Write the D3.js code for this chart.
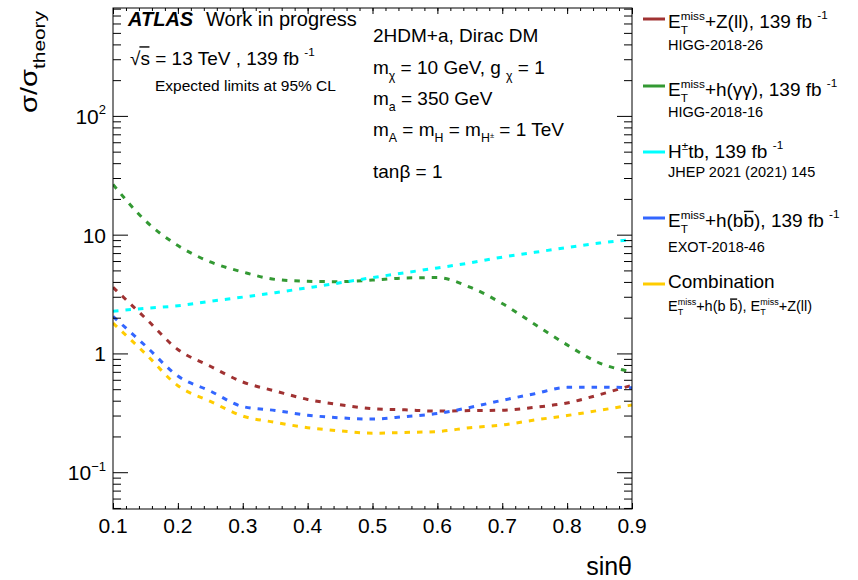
<!DOCTYPE html>
<html><head><meta charset="utf-8">
<script src="https://cdn.jsdelivr.net/npm/d3@7"></script>
<style>
body{margin:0;background:#fff}
text{font-family:"Liberation Sans",Arial,Helvetica,sans-serif;fill:#000;white-space:pre}
</style>
</head><body>
<svg id="c" width="858" height="580"></svg>
<script>
// ---------------- data ----------------
const sinTheta    = [0.10,0.15,0.20,0.25,0.30,0.35,0.40,0.45,0.50,0.55,0.60,0.65,0.70,0.75,0.80,0.85,0.90];
const zll         = [3.6,1.98,1.08,0.78,0.575,0.483,0.41,0.37,0.342,0.335,0.327,0.33,0.333,0.352,0.383,0.45,0.54];
const hgg         = [26.5,13.1,8.1,5.9,4.85,4.2,4.05,4.02,4.15,4.32,4.35,3.62,2.63,1.76,1.18,0.83,0.70];
const htb         = [2.27,2.40,2.52,2.75,2.98,3.25,3.57,3.93,4.35,4.78,5.25,5.78,6.47,7.1,7.8,8.5,9.1];
const hbb         = [2.05,1.16,0.645,0.482,0.357,0.331,0.302,0.287,0.28,0.294,0.312,0.351,0.403,0.458,0.518,0.52,0.514];
const combination = [1.80,0.995,0.535,0.395,0.297,0.263,0.237,0.223,0.213,0.216,0.22,0.237,0.25,0.275,0.30,0.332,0.368];

const xTickValues = [0.1,0.2,0.3,0.4,0.5,0.6,0.7,0.8,0.9];
const xTickLabels = ["0.1","0.2","0.3","0.4","0.5","0.6","0.7","0.8","0.9"];
const yTickValues = [0.1,1,10,100];
const yTickLabels = [
  [{t:"10"},{t:"\u22121",s:0.62,dy:-0.45}],
  [{t:"1"}],
  [{t:"10"}],
  [{t:"10"},{t:"2",s:0.62,dy:-0.45}]
];

const ETmiss = [{t:"E"},{stack:[{t:"miss",s:0.62,dy:-0.42},{t:"T",s:0.62,dy:0.3}]}];
const seriesNames = ["zll","hgg","htb","hbb","combination"];
const seriesColors = ["#a03232","#339933","#00ffff","#3366ff","#ffcc00"];
const legendMain = [
  [...ETmiss,{t:"+Z(ll), 139 fb "},{t:"-1",s:0.62,dy:-0.45}],
  [...ETmiss,{t:"+h(\u03b3\u03b3), 139 fb "},{t:"-1",s:0.62,dy:-0.45}],
  [{t:"H"},{t:"\u00b1",s:0.62,dy:-0.42},{t:"tb, 139 fb "},{t:"-1",s:0.62,dy:-0.45}],
  [...ETmiss,{t:"+h(b"},{t:"b",over:true},{t:"), 139 fb "},{t:"-1",s:0.62,dy:-0.45}],
  [{t:"Combination"}]
];
const legendSub = [
  [{t:"HIGG-2018-26"}],
  [{t:"HIGG-2018-16"}],
  [{t:"JHEP 2021 (2021) 145"}],
  [{t:"EXOT-2018-46"}],
  [...ETmiss,{t:"+h(b "},{t:"b",over:true},{t:"), "},...ETmiss,{t:"+Z(ll)"}]
];

// ---------------- layout ----------------
const svg = d3.select("#c");
const L = 113, R = 632, T = 8, B = 509;
const x = d3.scaleLinear().domain([0.1,0.9]).range([L,R]);
const y = d3.scaleLog().domain([0.049,810]).range([B,T]);

function rich(g, x0, y0, parts, size){
  let cx = x0;
  parts.forEach(p=>{
    if(p.stack){
      let w=0;
      p.stack.forEach(s=>{
        const t=g.append("text").attr("x",cx).attr("y",y0+(s.dy||0)*size)
          .attr("font-size",size*(s.s||1)).text(s.t);
        w=Math.max(w,t.node().getComputedTextLength());
      });
      cx+=w;
    } else {
      const fs=size*(p.s||1);
      const t=g.append("text").attr("x",cx).attr("y",y0+(p.dy||0)*size)
        .attr("font-size",fs)
        .attr("font-weight",p.b?"bold":null)
        .attr("font-style",p.it?"italic":null)
        .text(p.t);
      if(p.tl) t.attr("textLength",p.tl).attr("lengthAdjust","spacingAndGlyphs");
      const w=p.tl||t.node().getComputedTextLength();
      if(p.over){
        const oy=y0+(p.dy||0)*size-(p.oh||0.82)*fs;
        g.append("line").attr("x1",cx+(p.ox||0.5)).attr("x2",cx+w-0.5)
          .attr("y1",oy).attr("y2",oy)
          .attr("stroke","#000").attr("stroke-width",1.4);
      }
      cx+=w;
    }
  });
  return cx-x0;
}

// clip
svg.append("clipPath").attr("id","clip").append("rect")
  .attr("x",L).attr("y",T).attr("width",R-L).attr("height",B-T);

// curves
const seriesData = {zll,hgg,htb,hbb,combination};
const line = d3.line().x((d,i)=>x(sinTheta[i])).y(d=>y(d)).curve(d3.curveMonotoneX);
const drawOrder = [1,2,0,3,4];
const curves = svg.append("g").attr("clip-path","url(#clip)");
drawOrder.forEach(k=>{
  curves.append("path").datum(seriesData[seriesNames[k]])
    .attr("d",line).attr("fill","none")
    .attr("stroke",seriesColors[k]).attr("stroke-width",3)
    .attr("stroke-dasharray","5.5,7");
});

// axes (ROOT style, ticks inside)
const xMinor = d3.range(0.1,0.9001,0.02).map(v=>+v.toFixed(2));
const yMinor = [];
[0.01,0.1,1,10,100].forEach(d=>{for(let m=2;m<=9;m++){const v=d*m; if(v>=0.049&&v<=810) yMinor.push(v);}});
function axisG(ax, tx, ty){
  const g=svg.append("g").attr("transform",`translate(${tx},${ty})`).call(ax);
  g.select(".domain").remove();
  g.selectAll("line").attr("stroke","#000").attr("stroke-width",1);
  return g;
}
axisG(d3.axisTop(x).tickValues(xMinor).tickSize(3).tickFormat(""),0,B);
axisG(d3.axisTop(x).tickValues(xTickValues).tickSize(6).tickFormat(""),0,B);
axisG(d3.axisBottom(x).tickValues(xMinor).tickSize(3).tickFormat(""),0,T);
axisG(d3.axisBottom(x).tickValues(xTickValues).tickSize(6).tickFormat(""),0,T);
axisG(d3.axisRight(y).tickValues(yMinor).tickSize(8).tickFormat(""),L,0);
axisG(d3.axisRight(y).tickValues(yTickValues).tickSize(15).tickFormat(""),L,0);
axisG(d3.axisLeft(y).tickValues(yMinor).tickSize(8).tickFormat(""),R,0);
axisG(d3.axisLeft(y).tickValues(yTickValues).tickSize(15).tickFormat(""),R,0);
svg.append("rect").attr("x",L).attr("y",T).attr("width",R-L).attr("height",B-T)
  .attr("fill","none").attr("stroke","#000").attr("stroke-width",1);

// x tick labels
svg.append("g").selectAll("text").data(xTickValues).join("text")
  .attr("x",d=>x(d)).attr("y",533).attr("text-anchor","middle")
  .attr("font-size",21).text((d,i)=>xTickLabels[i]);

// y tick labels (right aligned)
yTickValues.forEach((v,i)=>{
  const g=svg.append("g");
  const w=rich(g,0,y(v)+8,yTickLabels[i],21);
  g.attr("transform",`translate(${106-w},0)`);
});

// axis titles
svg.append("text").attr("x",R).attr("y",575).attr("text-anchor","end")
  .attr("font-size",25).text("sin\u03b8");
{
  const g=svg.append("g").attr("transform","translate(37,113) rotate(-90)");
  rich(g,0,0,[{t:"\u03c3/\u03c3",tl:44},{t:"theory",s:0.66,dy:0.33,tl:58}],24);
}

// header texts
{
  const g=svg.append("g");
  g.append("text").attr("x",128).attr("y",26).attr("font-size",20)
    .attr("font-weight","bold").attr("font-style","italic").text("ATLAS");
  g.append("text").attr("x",206).attr("y",26).attr("font-size",20).text("Work in progress");
  rich(g,130,65,[{t:"\u221a"},{t:"s",over:true,oh:0.95,ox:-1},{t:" = 13 TeV , 139 fb "},{t:"-1",s:0.62,dy:-0.45}],19);
  g.append("text").attr("x",155).attr("y",91).attr("font-size",15.5).text("Expected limits at 95% CL");
  const mx=373, fs=19, sub=0.65, sd=0.32;
  rich(g,mx,42,[{t:"2HDM+a, Dirac DM"}],fs);
  rich(g,mx,74,[{t:"m"},{t:"\u03c7",s:sub,dy:sd},{t:" = 10 GeV, g "},{t:"\u03c7",s:sub,dy:sd},{t:" = 1"}],fs);
  rich(g,mx,105,[{t:"m"},{t:"a",s:sub,dy:sd},{t:" = 350 GeV"}],fs);
  rich(g,mx,136,[{t:"m"},{t:"A",s:sub,dy:sd},{t:" = m"},{t:"H",s:sub,dy:sd},{t:" = m"},
                 {t:"H",s:sub,dy:sd},{t:"\u00b1",s:0.4,dy:0.1},{t:" = 1 TeV"}],fs);
  rich(g,mx,178,[{t:"tan\u03b2 = 1"}],fs);
}

// legend
const legLineY = [19,86,152,218,284];
const legMainY = [28,96,158,227,288];
const legSubY  = [50,117,177,252,311];
legendMain.forEach((parts,i)=>{
  const g=svg.append("g");
  g.append("line").attr("x1",643).attr("x2",665).attr("y1",legLineY[i]).attr("y2",legLineY[i])
    .attr("stroke",seriesColors[i]).attr("stroke-width",3);
  rich(g,668,legMainY[i],parts,19);
  rich(g,668,legSubY[i],legendSub[i],14.5);
});
</script>
</body></html>
